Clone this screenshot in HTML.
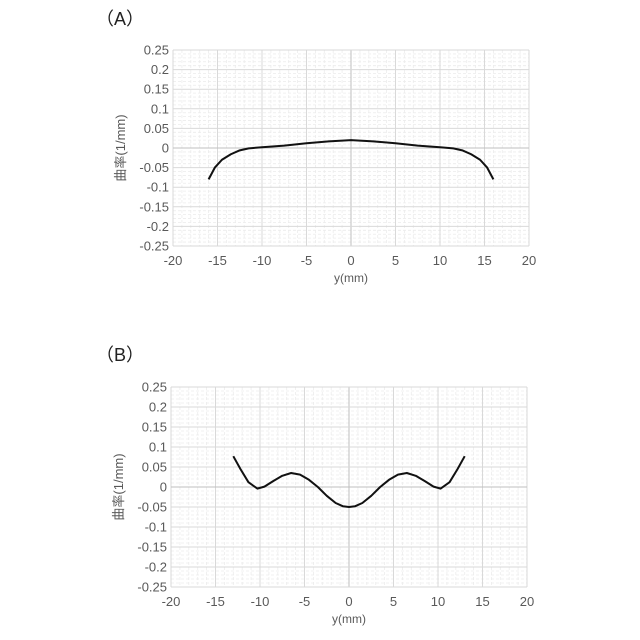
<!DOCTYPE html>
<html><head><meta charset="utf-8"><style>
body{margin:0;background:#fff;width:640px;height:640px;overflow:hidden}
svg{position:absolute;left:0;top:0}
text{font-family:"Liberation Sans","Noto Sans CJK JP",sans-serif;fill:#595959}
</style></head><body>
<svg id="s" width="640" height="640" xmlns="http://www.w3.org/2000/svg">
<text x="96" y="25" font-size="18" style="fill:#222">（A）</text>
<text x="96" y="361" font-size="18" style="fill:#222">（B）</text>
</svg>
<script>
const s=document.getElementById('s');let h='';
function chart(L,T,W,H,title,data){
 const R=L+W,B=T+H;
 const X=v=>L+(v+20)/40*W, Y=v=>T+(0.25-v)/0.5*H;
 for(let i=-20;i<=20;i++){if(i%5)h+=`<line x1="${X(i)}" y1="${T}" x2="${X(i)}" y2="${B}" stroke="#ececec" stroke-width="0.8" stroke-dasharray="3,2"/>`;}
 for(let j=-25;j<=25;j++){if(j%5)h+=`<line x1="${L}" y1="${Y(j/100)}" x2="${R}" y2="${Y(j/100)}" stroke="#ececec" stroke-width="0.8" stroke-dasharray="3,2"/>`;}
 for(let i=-20;i<=20;i+=5){h+=`<line x1="${X(i)}" y1="${T}" x2="${X(i)}" y2="${B}" stroke="${i==0?'#bfbfbf':'#d9d9d9'}" stroke-width="1"/>`;
  h+=`<text x="${X(i)}" y="${B+19}" font-size="13" text-anchor="middle">${i}</text>`;}
 for(let j=-25;j<=25;j+=5){const v=j/100;h+=`<line x1="${L}" y1="${Y(v)}" x2="${R}" y2="${Y(v)}" stroke="${j==0?'#bfbfbf':'#d9d9d9'}" stroke-width="1"/>`;
  h+=`<text x="${L-4}" y="${Y(v)+4.5}" font-size="13" text-anchor="end">${v}</text>`;}
 h+=`<text x="${(L+R)/2}" y="${B+36}" font-size="12" text-anchor="middle">y(mm)</text>`;
 h+=`<text transform="translate(${L-48},${(T+B)/2}) rotate(-90)" font-size="13" text-anchor="middle">曲率(1/mm)</text>`;
 h+=`<polyline fill="none" stroke="#111" stroke-width="2" stroke-linejoin="round" points="${data.map(p=>X(p[0])+','+Y(p[1])).join(' ')}"/>`;
}
const a=[[-16,-0.08],[-15.3,-0.05],[-14.5,-0.03],[-13.5,-0.016],[-12.5,-0.006],[-11.5,-0.001],[-10,0.002],[-7.5,0.006],[-5,0.012],[-2.5,0.017],[0,0.02]];
const A=a.concat(a.slice(0,-1).reverse().map(p=>[-p[0],p[1]]));
const b=[[-13,0.077],[-12.2,0.045],[-11.3,0.012],[-10.3,-0.004],[-9.5,0.001],[-8.5,0.015],[-7.5,0.028],[-6.5,0.035],[-5.5,0.031],[-4.5,0.018],[-3.5,0],[-2.5,-0.022],[-1.5,-0.04],[-0.7,-0.048],[0,-0.05]];
const Bd=b.concat(b.slice(0,-1).reverse().map(p=>[-p[0],p[1]]));
chart(173,50,356,196,'A',A);
chart(171,387,356,200,'B',Bd);
s.insertAdjacentHTML('beforeend',h);
</script>
</body></html>
